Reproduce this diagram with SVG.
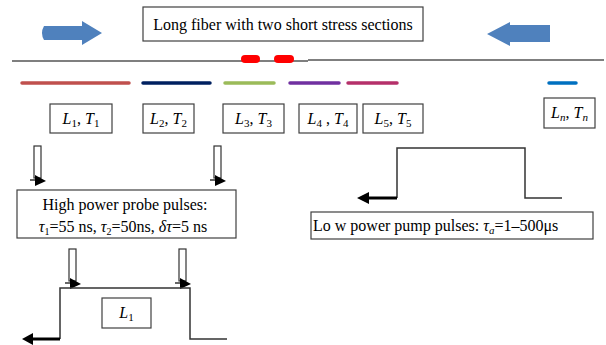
<svg xmlns="http://www.w3.org/2000/svg" width="606" height="345" viewBox="0 0 606 345">
<style>
text{font-family:"Liberation Serif","Times New Roman",serif;fill:#000;font-size:16px}
.box{fill:#fff;stroke:#404040;stroke-width:1.2}
.i{font-style:italic}
.seg{stroke-width:3.5;stroke-linecap:round;fill:none}
.pulse{fill:none;stroke:#333;stroke-width:1.5}
.hollow{fill:#fff;stroke:#333;stroke-width:1.2}
.blk{fill:#000}
</style>
<defs>
<g id="downarrow">
<rect class="hollow" x="0" y="0" width="7" height="32"/>
<line x1="-4" y1="34" x2="4" y2="34" stroke="#000" stroke-width="1.2"/>
<polygon class="blk" points="1,29 12,35 1,40"/>
</g>
</defs>
<rect width="606" height="345" fill="#fff"/>

<g id="connectors">
<!-- fiber -->
<line x1="12" y1="61" x2="308" y2="61" stroke="#555" stroke-width="1.5"/>
<line x1="308" y1="60" x2="604" y2="60" stroke="#555" stroke-width="1.5"/>
<!-- big blue arrows -->
<path d="M44,26 H82 V21 L102,33 L82,45 V40 H44 Q40,33 44,26 Z" fill="#4f81bd"/>
<path d="M550,25 H510 V22 L487,34 L510,46 V42 H550 Z" fill="#4f81bd"/>
<!-- down arrows -->
<use href="#downarrow" x="34" y="146"/>
<use href="#downarrow" x="214" y="146"/>
<use href="#downarrow" x="69" y="249"/>
<use href="#downarrow" x="179" y="249"/>
</g>

<g id="stress-sections">
<rect x="241" y="55" width="19" height="8" rx="4" fill="#ff0000"/>
<rect x="274" y="55" width="20" height="8" rx="4" fill="#ff0000"/>
</g>

<g id="segments">
<line class="seg" x1="22" y1="83" x2="129" y2="83" stroke="#c0504d"/>
<line class="seg" x1="143" y1="83" x2="210" y2="83" stroke="#002060"/>
<line class="seg" x1="225" y1="83" x2="274" y2="83" stroke="#9bbb59"/>
<line class="seg" x1="290" y1="83" x2="339" y2="83" stroke="#7030a0"/>
<line class="seg" x1="348" y1="83" x2="397" y2="83" stroke="#b5306a"/>
<line class="seg" x1="549" y1="83" x2="576" y2="83" stroke="#0070c0"/>
</g>

<g id="title">
<rect class="box" x="143" y="7" width="280" height="34"/>
<text x="283" y="30" text-anchor="middle">Long fiber with two short stress sections</text>
</g>

<g id="label1">
<rect class="box" x="50" y="104" width="62" height="29"/>
<text x="81" y="124" text-anchor="middle"><tspan class="i">L</tspan><tspan font-size="11" dy="3">1</tspan><tspan dy="-3">, </tspan><tspan class="i">T</tspan><tspan font-size="11" dy="3">1</tspan></text>
</g>
<g id="label2">
<rect class="box" x="143" y="104" width="51" height="29"/>
<text x="168.5" y="124" text-anchor="middle"><tspan class="i">L</tspan><tspan font-size="11" dy="3">2</tspan><tspan dy="-3">, </tspan><tspan class="i">T</tspan><tspan font-size="11" dy="3">2</tspan></text>
</g>
<g id="label3">
<rect class="box" x="223" y="104" width="61" height="29"/>
<text x="253.5" y="124" text-anchor="middle"><tspan class="i">L</tspan><tspan font-size="11" dy="3">3</tspan><tspan dy="-3">, </tspan><tspan class="i">T</tspan><tspan font-size="11" dy="3">3</tspan></text>
</g>
<g id="label4">
<rect class="box" x="299" y="104" width="58" height="29"/>
<text x="328" y="124" text-anchor="middle"><tspan class="i">L</tspan><tspan font-size="11" dy="3">4</tspan><tspan dy="-3"> , </tspan><tspan class="i">T</tspan><tspan font-size="11" dy="3">4</tspan></text>
</g>
<g id="label5">
<rect class="box" x="363" y="104" width="60" height="29"/>
<text x="393" y="124" text-anchor="middle"><tspan class="i">L</tspan><tspan font-size="11" dy="3">5</tspan><tspan dy="-3">, </tspan><tspan class="i">T</tspan><tspan font-size="11" dy="3">5</tspan></text>
</g>
<g id="labeln">
<rect class="box" x="544" y="98" width="51" height="30"/>
<text x="569.5" y="118" text-anchor="middle"><tspan class="i">L</tspan><tspan class="i" font-size="11" dy="3">n</tspan><tspan dy="-3">, </tspan><tspan class="i">T</tspan><tspan class="i" font-size="11" dy="3">n</tspan></text>
</g>

<g id="probe-box">
<rect class="box" x="17" y="190" width="219" height="48"/>
<text x="125" y="210" text-anchor="middle" font-size="16.5">High power probe pulses:</text>
<text x="123" y="232" text-anchor="middle"><tspan class="i">τ</tspan><tspan font-size="10" dy="3">1</tspan><tspan dy="-3">=55 ns, </tspan><tspan class="i">τ</tspan><tspan font-size="10" dy="3">2</tspan><tspan dy="-3">=50ns, </tspan><tspan class="i">δτ</tspan><tspan>=5 ns</tspan></text>
</g>

<g id="pump-pulse">
<path class="pulse" d="M397,198 V148 H525 V198 H562"/>
<line x1="397" y1="198" x2="368" y2="198" stroke="#000" stroke-width="3"/>
<polygon class="blk" points="357,198 369,192 369,204"/>
</g>

<g id="pump-box">
<rect class="box" x="311" y="212" width="282" height="27"/>
<text x="313" y="231" font-size="17">Lo w power pump pulses: <tspan class="i">τ</tspan><tspan class="i" font-size="11" dy="3">a</tspan><tspan dy="-3">=1–500μs</tspan></text>
</g>

<g id="probe-pulse">
<path class="pulse" d="M60,339 V288 H190 V339 H227"/>
<line x1="60" y1="339" x2="32" y2="339" stroke="#000" stroke-width="3"/>
<polygon class="blk" points="22,339 33,333 33,345"/>
</g>

<g id="labelL1">
<rect class="box" x="102" y="298" width="49" height="30"/>
<text x="126.5" y="318" text-anchor="middle"><tspan class="i">L</tspan><tspan font-size="11" dy="3">1</tspan></text>
</g>
</svg>
